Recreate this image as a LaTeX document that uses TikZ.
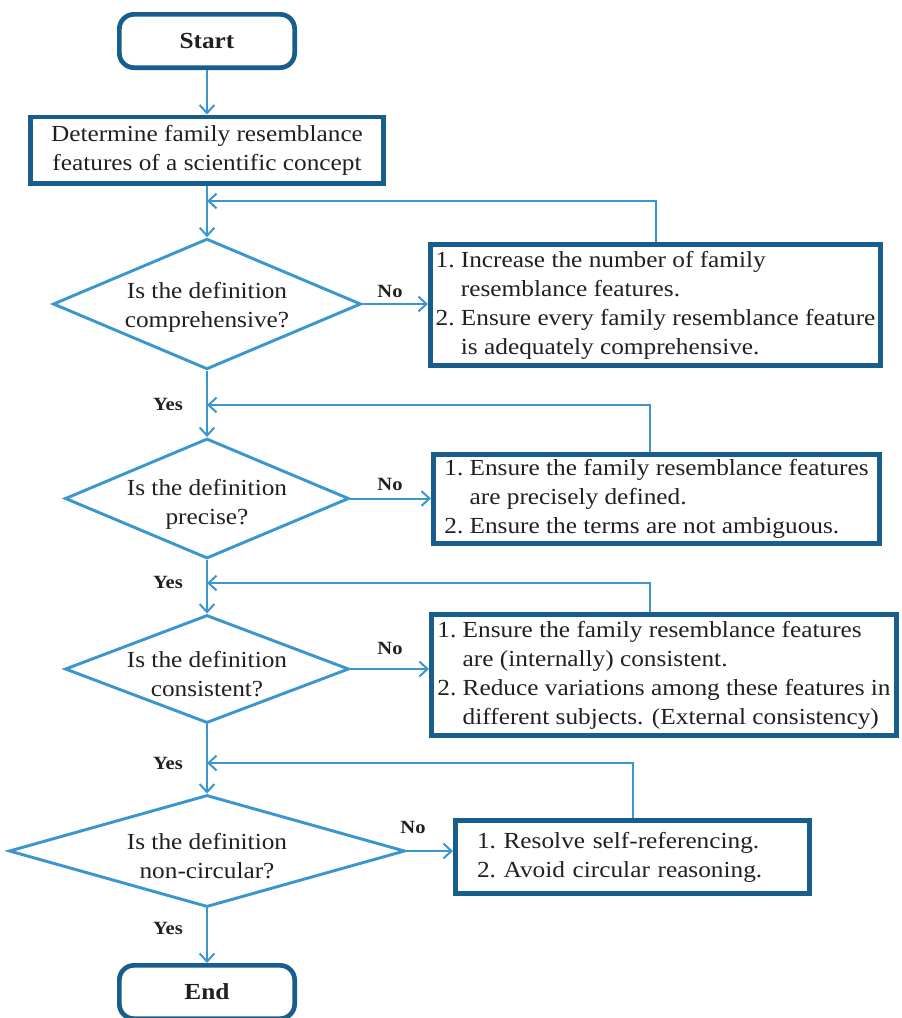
\documentclass[tikz,border=0pt]{standalone}
\usepackage{fontspec}
\setmainfont[FakeStretch=1.1]{Liberation Serif}
\usepackage{tikz}
\usetikzlibrary{shapes.geometric, arrows.meta, positioning}

\definecolor{boxblue}{RGB}{24,94,140}
\definecolor{lineblue}{RGB}{58,150,204}
\definecolor{inkgrey}{RGB}{35,31,32}

\newcommand{\bodyfont}{\fontsize{17.25}{21.75}\selectfont}
\newcommand{\answerfont}{\fontsize{14}{17}\selectfont}

\tikzset{
  terminal/.style={draw=boxblue, line width=3.5pt, rounded corners=11pt, minimum width=131.5pt, minimum height=40pt, font=\bodyfont\bfseries, text=inkgrey},
  process/.style={draw=boxblue, line width=3.5pt, align=center, minimum width=265pt, minimum height=49.75pt, font=\bodyfont, text=inkgrey},
  fixbox/.style={draw=boxblue, line width=3.5pt, align=left, inner xsep=4pt, inner ysep=0pt, font=\bodyfont, text=inkgrey},
  decision/.style={diamond, draw=lineblue, line width=2.2pt, inner sep=0pt},
  question/.style={align=center, inner sep=0pt, font=\bodyfont, text=inkgrey},
  answer/.style={inner sep=0pt, font=\answerfont\bfseries, text=inkgrey},
  flow/.style={draw=lineblue, line width=1.5pt, -{Straight Barb[length=6pt,width=11pt]}},
}

\begin{document}
\begin{tikzpicture}[x=0.75pt,y=0.75pt,yscale=-1,xscale=1]
    \useasboundingbox (0,0) rectangle (901,1018);

    % Main column
    \node[terminal] (start) at (207,41) {Start};
    \node[process] (det) at (207,150) {Determine family resemblance\\features of a scientific concept};

    \node[decision, minimum width=231pt, minimum height=98pt] (d1) at (207,304) {};
    \node[question] (q1) at ([yshift=2.25pt]d1) {Is the definition\\comprehensive?};

    \node[decision, minimum width=213pt, minimum height=90pt] (d2) at (207,498.5) {};
    \node[question] (q2) at ([yshift=4.5pt]d2) {Is the definition\\precise?};

    \node[decision, minimum width=213pt, minimum height=81pt] (d3) at (207,669) {};
    \node[question] (q3) at ([yshift=3.75pt]d3) {Is the definition\\consistent?};

    \node[decision, minimum width=297pt, minimum height=84pt] (d4) at (207,851) {};
    \node[question] (q4) at ([yshift=3.75pt]d4) {Is the definition\\non-circular?};

    \node[terminal] (finish) at (207,992) {End};

    % Fix-up boxes
    \node[fixbox, minimum width=336.25pt, minimum height=91pt] (b1) at (655.5,305) {1.~Increase the number of family\\\hphantom{1.~}resemblance features.\\2.~Ensure every family resemblance feature\\\hphantom{2.~}is adequately comprehensive.};
    \node[fixbox, minimum width=334.75pt, minimum height=67pt] (b2) at (656.5,499) {1.~Ensure the family resemblance features\\\hphantom{1.~}are precisely defined.\\2.~Ensure the terms are not ambiguous.};
    \node[fixbox, minimum width=349pt, minimum height=91pt] (b3) at (664,675) {1.~Ensure the family resemblance features\\\hphantom{1.~}are (internally) consistent.\\2.~Reduce variations among these features in\\\hphantom{2.~}different subjects. (External consistency)};
    \node[fixbox, inner xsep=16.25pt, text width=233.25pt, minimum height=55pt] (b4) at (632.5,857) {1.~Resolve self-referencing.\\2.~Avoid circular reasoning.};

    % Junctions on the main line
    \coordinate (j1) at (207,201);
    \coordinate (j2) at (207,405);
    \coordinate (j3) at (207,583);
    \coordinate (j4) at (207,763);

    % Answers
    \node[answer] (y1) at (168,404) {Yes};
    \node[answer] (y2) at (168,582) {Yes};
    \node[answer] (y3) at (168,763) {Yes};
    \node[answer] (y4) at (168,928) {Yes};
    \node[answer] (n1) at (390,291) {No};
    \node[answer] (n2) at (390,484) {No};
    \node[answer] (n3) at (390,648) {No};
    \node[answer] (n4) at (413,827) {No};

    % Connections
    \draw[flow] (start) -- (det);
    \draw[flow] (det) -- (d1);
    \draw[flow] (d1) -- (d2);
    \draw[flow] (d2) -- (d3);
    \draw[flow] (d3) -- (d4);
    \draw[flow] (d4) -- (finish);
    \draw[flow] (d1.east) -- (d1.east -| b1.west);
    \draw[flow] (d2.east) -- (d2.east -| b2.west);
    \draw[flow] (d3.east) -- (d3.east -| b3.west);
    \draw[flow] (d4.east) -- (d4.east -| b4.west);
    % Loops back
    \draw[flow] (b1.north) |- (j1);
    \draw[flow] ([xshift=-5pt]b2.north) |- (j2);
    \draw[flow] ([xshift=-10.5pt]b3.north) |- (j3);
    \draw[flow] (b4.north) |- (j4);
\end{tikzpicture}
\end{document}
